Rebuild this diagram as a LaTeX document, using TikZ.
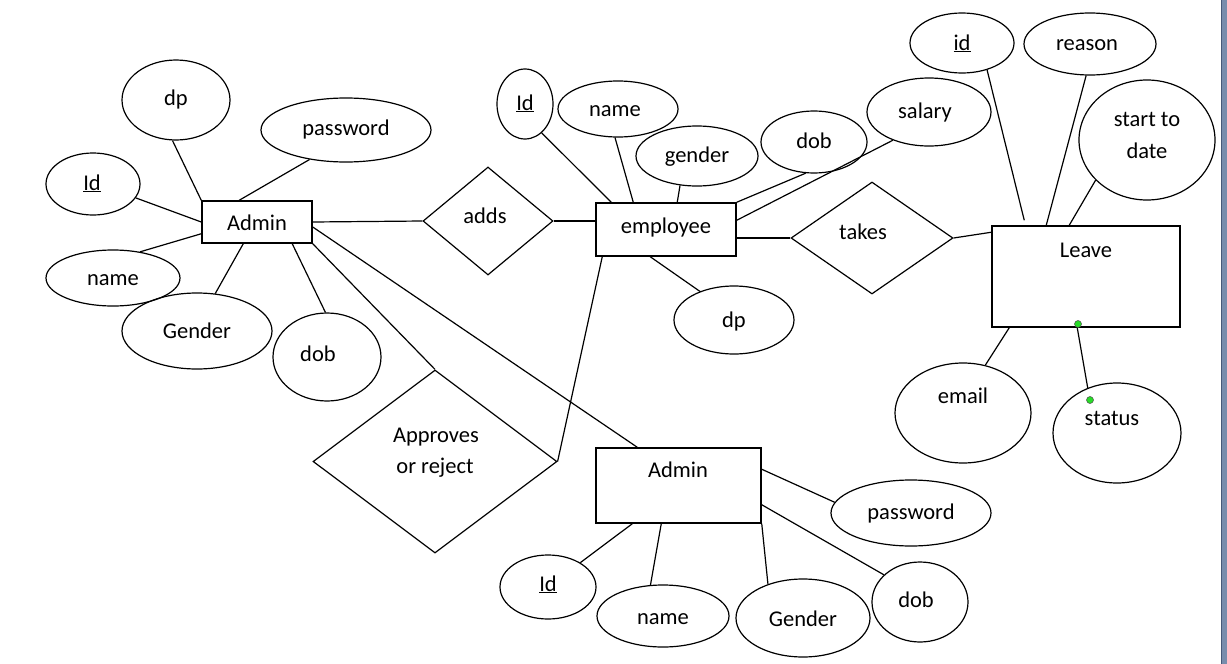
\documentclass[tikz,border=0pt]{standalone}
\usepackage{fontspec}
\setmainfont{Carlito}
\usetikzlibrary{shapes.geometric}
\definecolor{barblue}{RGB}{120,140,172}
\definecolor{bardark}{RGB}{70,88,120}
\definecolor{dotgreen}{RGB}{40,220,40}
\begin{document}
\begin{tikzpicture}[x=1pt,y=-1pt,line width=1.2pt,
  ent/.style={draw,rectangle,inner sep=0pt,line width=1.5pt},
  attr/.style={draw,ellipse,inner sep=0pt},
  rel/.style={draw,diamond,inner sep=0pt},
  txt/.style={anchor=base,inner sep=0pt,font=\fontsize{22.5}{27}\selectfont},
  gdot/.style={circle,draw=black!70,line width=0.5pt,fill=dotgreen,minimum size=7pt,inner sep=0pt}]
\useasboundingbox (0,0) rectangle (1227,664);
\fill[white] (0,0) rectangle (1227,664);
\fill[barblue] (1221,0) rectangle (1227,664);
\draw[bardark,line width=1pt] (1221.5,0) -- (1221.5,664);

% ---------- shapes ----------
\node[ent,minimum width=110pt,minimum height=42pt] (a1) at (257,222) {};
\node[attr,minimum width=108pt,minimum height=80pt] (dp1) at (176,100) {};
\node[attr,minimum width=170pt,minimum height=64pt] (pw1) at (346,130) {};
\node[attr,minimum width=94pt,minimum height=62pt] (id1) at (93,184) {};
\node[attr,minimum width=134pt,minimum height=56pt] (name1) at (113,278) {};
\node[attr,minimum width=150pt,minimum height=76pt] (gen1) at (197,331) {};
\node[attr,minimum width=108pt,minimum height=88pt] (dob1) at (327,357) {};

\node[rel,minimum width=130pt,minimum height=108pt] (adds) at (488,221) {};

\node[ent,minimum width=140pt,minimum height=53pt] (emp) at (666,229.5) {};
\node[attr,minimum width=56pt,minimum height=70pt] (idE) at (525,104) {};
\node[attr,minimum width=120pt,minimum height=56pt] (nameE) at (618,109) {};
\node[attr,minimum width=122pt,minimum height=60pt] (genE) at (697,156) {};
\node[attr,minimum width=106pt,minimum height=62pt] (dobE) at (814,142) {};
\node[attr,minimum width=124pt,minimum height=68pt] (salE) at (929,112) {};
\node[attr,minimum width=120pt,minimum height=68pt] (dpE) at (734,320) {};

\node[rel,minimum width=162pt,minimum height=112pt] (takes) at (872,238) {};

\node[ent,minimum width=188pt,minimum height=101pt] (leave) at (1086,276.5) {};
\node[attr,minimum width=104pt,minimum height=60pt] (idL) at (962,43) {};
\node[attr,minimum width=132pt,minimum height=62pt] (reasonL) at (1090,44) {};
\node[attr,minimum width=136pt,minimum height=120pt] (stdL) at (1147,140) {};
\node[attr,minimum width=136pt,minimum height=100pt] (emailL) at (963,413) {};
\node[attr,minimum width=128pt,minimum height=100pt] (statusL) at (1117,433) {};

\node[rel,minimum width=244pt,minimum height=183pt] (appr) at (435,461.5) {};

\node[ent,minimum width=165pt,minimum height=75pt] (a2) at (678.5,485.5) {};
\node[attr,minimum width=160pt,minimum height=66pt] (pw2) at (911,513) {};
\node[attr,minimum width=96pt,minimum height=64pt] (id2) at (548,587) {};
\node[attr,minimum width=132pt,minimum height=62pt] (name2) at (663,616) {};
\node[attr,minimum width=134pt,minimum height=78pt] (gen2) at (803,618) {};
\node[attr,minimum width=96pt,minimum height=80pt] (dob2) at (920,602) {};

% ---------- texts ----------
\node[txt] (t-a1) at (257,230) {Admin};
\node[txt] (t-dp1) at (176,105) {dp};
\node[txt] (t-pw1) at (346,135) {password};
\node[txt] (t-id1) at (92,190) {\underline{Id}};
\node[txt] (t-name1) at (113,285) {name};
\node[txt] (t-gen1) at (197,338) {Gender};
\node[txt] (t-dob1) at (318,361) {dob};
\node[txt] (t-adds) at (485,223) {adds};
\node[txt] (t-emp) at (666,233) {employee};
\node[txt] (t-idE) at (525,110) {\underline{Id}};
\node[txt] (t-nameE) at (615,116) {name};
\node[txt] (t-genE) at (697,162) {gender};
\node[txt] (t-dobE) at (814,148) {dob};
\node[txt] (t-salE) at (925,118) {salary};
\node[txt] (t-dpE) at (734,327) {dp};
\node[txt] (t-takes) at (863,239) {takes};
\node[txt] (t-idL) at (962,50) {\underline{id}};
\node[txt] (t-reasonL) at (1087,50) {reason};
\node[txt] (t-std1) at (1147,126) {start to};
\node[txt] (t-std2) at (1147,158) {date};
\node[txt] (t-leave) at (1086,257) {Leave};
\node[txt] (t-email) at (963,403) {email};
\node[txt] (t-status) at (1112,425) {status};
\node[txt] (t-appr1) at (436,442) {Approves};
\node[txt] (t-appr2) at (435,473) {or reject};
\node[txt] (t-a2) at (678,477) {Admin};
\node[txt] (t-pw2) at (911,519) {password};
\node[txt] (t-id2) at (548,591) {\underline{Id}};
\node[txt] (t-name2) at (663,624) {name};
\node[txt] (t-gen2) at (803,626) {Gender};
\node[txt] (t-dob2) at (916,607) {dob};

% ---------- connectors ----------
\draw (dp1.-95) -- (a1.north west);
\draw (pw1.-141) -- ([xshift=38pt]a1.north west);
\draw (id1.-18) -- (a1.west);
\draw (name1.44) -- ([yshift=10pt]a1.south west);
\draw (gen1.64) -- ([xshift=42pt]a1.south west);
\draw (dob1.92) -- ([xshift=91pt]a1.south west);
\draw (a1.east) -- (adds.west);
\draw ([yshift=-5pt]a1.east) -- ([xshift=42pt]a2.north west);
\draw (a1.south east) -- (appr.north);

\draw (adds.east) -- (adds.east -| emp.west);
\draw (idE.-60) -- ([xshift=16pt]emp.north west);
\draw (nameE.-96) -- ([xshift=38pt]emp.north west);
\draw (genE.-120) -- ([xshift=82pt]emp.north west);
\draw (dobE.-105) -- (emp.north east);
\draw (salE.-142) -- ([yshift=-18pt]emp.north east);
\draw (dpE.140) -- ([xshift=55pt]emp.south west);
\draw ([xshift=7pt]emp.south west) -- (appr.east);
\draw (takes.west -| emp.east) -- (takes.west);
\draw (takes.east) -- ([yshift=-7pt]leave.north west);

\coordinate (lid) at ([xshift=33pt,yshift=5pt]leave.north west);
\draw (idL.-47) -- (lid);
\draw (reasonL.-97) -- ([xshift=55pt]leave.north west);
\draw (stdL.-142) -- ([xshift=78pt]leave.north west);
\draw (emailL.65) -- ([xshift=18pt]leave.south west);
\draw (statusL.123) -- ([xshift=86pt]leave.south west);

\draw (pw2.172) -- ([yshift=-22pt]a2.north east);
\draw (id2.37) -- ([xshift=37pt]a2.south west);
\draw (name2.112) -- ([xshift=66pt]a2.south west);
\draw (gen2.136) -- (a2.south east);
\draw (dob2.143) -- ([yshift=19pt]a2.south east);

\node[gdot] (g1) at (1078,324) {};
\node[gdot] (g2) at (1090,400) {};
\end{tikzpicture}
\end{document}
